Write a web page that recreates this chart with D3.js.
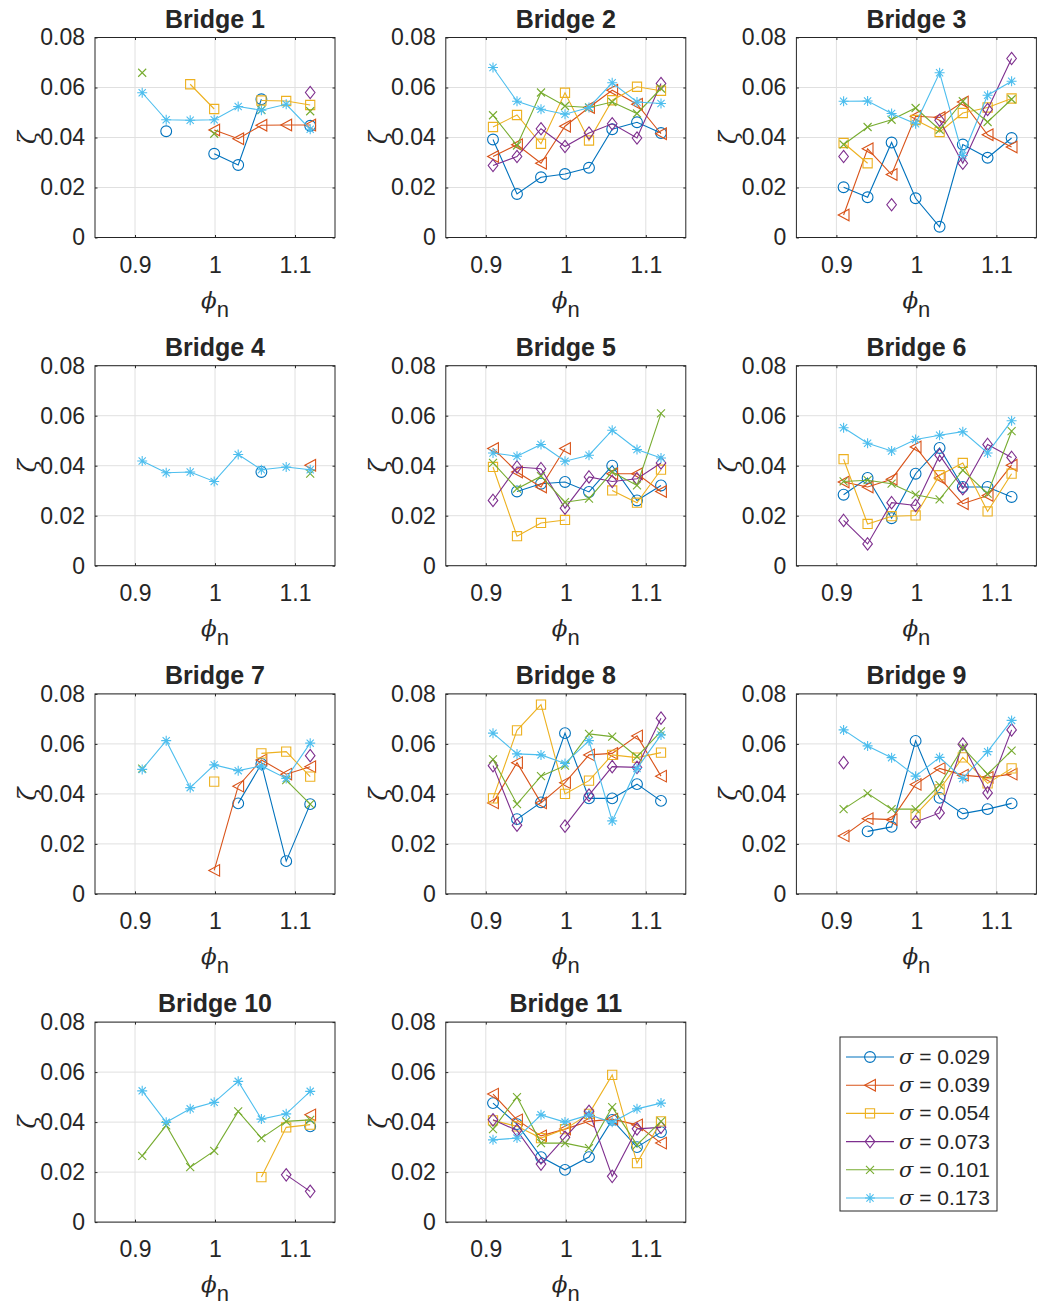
<!DOCTYPE html>
<html><head><meta charset="utf-8">
<script src="https://cdn.jsdelivr.net/npm/d3@7"></script>
<style>
body{margin:0;background:#fff}
svg{display:block}
text{font-family:"Liberation Sans",Arial,Helvetica,sans-serif;fill:#262626}
</style>
</head><body>
<svg id="c" width="1037" height="1309"></svg>
<script>
// ---------- data ----------
const phiN = [0.909, 0.939, 0.969, 0.999, 1.029, 1.058, 1.089, 1.119];
const sigmaLabels = ["0.029", "0.039", "0.054", "0.073", "0.101", "0.173"];
const bridgeNames = ["Bridge 1","Bridge 2","Bridge 3","Bridge 4","Bridge 5","Bridge 6","Bridge 7","Bridge 8","Bridge 9","Bridge 10","Bridge 11"];
const yTicks = [0, 0.02, 0.04, 0.06, 0.08];
const xTicks = [0.9, 1, 1.1];
const _ = null;
// each bridge: rows = sigma series (0.029, 0.039, 0.054, 0.073, 0.101, 0.173), columns = phiN
const bridge1 = [
  [_, 0.0425, _, 0.0335, 0.029, 0.0553, _, 0.0447],
  [_, _, _, 0.043, 0.0395, 0.0449, 0.045, 0.045],
  [_, _, 0.0613, 0.0514, _, 0.0548, 0.0546, 0.053],
  [_, _, _, _, _, _, _, 0.058],
  [0.0659, _, _, 0.0415, _, 0.051, _, 0.0505],
  [0.0579, 0.0471, 0.0469, 0.0471, 0.0524, 0.0509, 0.0533, 0.0433]
];
const bridge2 = [
  [0.0392, 0.0174, 0.0241, 0.0254, 0.0279, 0.0433, 0.0461, 0.0418],
  [0.0324, 0.0371, 0.0297, 0.0445, 0.052, 0.0589, 0.0533, 0.0415],
  [0.0442, 0.049, 0.0375, 0.0579, 0.0388, 0.0549, 0.0603, 0.0587],
  [0.0288, 0.0324, 0.0435, 0.0364, 0.0418, 0.0455, 0.0398, 0.0616],
  [0.0489, 0.0368, 0.058, 0.0526, 0.052, 0.0542, 0.0496, 0.0596],
  [0.068, 0.0545, 0.0513, 0.0493, 0.052, 0.0619, 0.0542, 0.0536]
];
const bridge3 = [
  [0.0201, 0.0161, 0.038, 0.0157, 0.0043, 0.0372, 0.0319, 0.0398],
  [0.009, 0.0355, 0.0252, 0.0485, 0.048, 0.0542, 0.0411, 0.0362],
  [0.0378, 0.0297, _, 0.047, 0.0422, 0.0498, 0.052, 0.0556],
  [0.0324, _, 0.0131, _, 0.0469, 0.0297, 0.0512, 0.0716],
  [0.0372, 0.0442, 0.0471, 0.0518, 0.0431, 0.0545, 0.0462, 0.0553],
  [0.0545, 0.0546, 0.0496, 0.0455, 0.0659, 0.0328, 0.0569, 0.0625]
];
const bridge4 = [
  [_, _, _, _, _, 0.0375, _, _],
  [_, _, _, _, _, _, _, 0.0402],
  [_, _, _, _, _, _, _, _],
  [_, _, _, _, _, _, _, _],
  [_, _, _, _, _, _, _, 0.0368],
  [0.0419, 0.0372, 0.0375, 0.0337, 0.0445, 0.0384, 0.0395, 0.0384]
];
const bridge5 = [
  [_, 0.0297, 0.0328, 0.0335, 0.0295, 0.040, 0.0261, 0.0321],
  [0.0469, 0.0375, 0.0315, 0.0469, _, 0.0368, 0.0368, 0.0297],
  [0.0395, 0.0118, 0.0171, 0.0183, _, 0.0301, 0.0252, 0.0384],
  [0.0261, 0.0395, 0.0388, 0.023, 0.0355, 0.0337, 0.0348, 0.0411],
  [0.0411, 0.0308, 0.0358, 0.0254, 0.0268, 0.0375, 0.0321, 0.0609],
  [0.0451, 0.0438, 0.0485, 0.0418, 0.0442, 0.0542, 0.0465, 0.0431]
];
const bridge6 = [
  [0.0284, 0.0351, 0.019, 0.0368, 0.0471, 0.0315, 0.0315, 0.0275],
  [0.0335, 0.0315, 0.0346, 0.0475, 0.0351, 0.0248, 0.0281, 0.0402],
  [0.0426, 0.0167, 0.0198, 0.0201, 0.0362, 0.0411, 0.0217, 0.0368],
  [0.0181, 0.0087, 0.0252, 0.0241, 0.0442, 0.0308, 0.0485, 0.0433],
  [0.0337, 0.0342, 0.0328, 0.0284, 0.0265, 0.0382, 0.0288, 0.0538],
  [0.0552, 0.049, 0.0459, 0.0505, 0.0522, 0.0536, 0.0451, 0.058]
];
const bridge7 = [
  [_, _, _, _, 0.0362, 0.052, 0.0131, 0.0359],
  [_, _, _, 0.0094, 0.0431, 0.0536, 0.0479, 0.0509],
  [_, _, _, 0.0449, _, 0.0562, 0.0569, 0.0469],
  [_, _, _, _, _, _, _, 0.0553],
  [0.0501, _, _, _, _, _, 0.0455, 0.0359],
  [0.0498, 0.0613, 0.0425, 0.0516, 0.0493, 0.0512, 0.0462, 0.0603]
];
const bridge8 = [
  [_, 0.0299, 0.0366, 0.0643, 0.0382, 0.0382, 0.0439, 0.0372],
  [0.0364, 0.0525, 0.0364, 0.0445, 0.0556, 0.0562, 0.0632, 0.0471],
  [0.0382, 0.0654, 0.0757, 0.040, 0.0453, 0.0556, 0.0545, 0.0565],
  [0.0513, 0.0275, _, 0.0271, 0.0395, 0.0509, 0.0506, 0.0703],
  [0.0538, 0.0359, 0.0471, 0.0513, 0.064, 0.0629, 0.0549, 0.065],
  [0.0643, 0.056, 0.0556, 0.0522, 0.0613, 0.0292, 0.0502, 0.0636]
];
const bridge9 = [
  [_, 0.025, 0.0268, 0.0612, 0.0384, 0.0321, 0.0339, 0.0362],
  [0.0232, 0.0301, 0.0297, 0.0438, 0.0502, 0.0475, 0.0466, 0.0479],
  [_, _, _, 0.0317, 0.0418, 0.0546, 0.0442, 0.0502],
  [0.0525, _, _, 0.0288, 0.0324, 0.0599, 0.0404, 0.0656],
  [0.0339, 0.0402, 0.0339, 0.0339, 0.0435, 0.0585, 0.0479, 0.0573],
  [0.0656, 0.0592, 0.0545, 0.0471, 0.0546, 0.0462, 0.0569, 0.0694]
];
const bridge10 = [
  [_, _, _, _, _, _, _, 0.0383],
  [_, _, _, _, _, _, _, 0.0429],
  [_, _, _, _, _, 0.018, 0.0379, 0.039],
  [_, _, _, _, _, _, 0.0189, 0.0123],
  [0.0265, 0.0387, 0.022, 0.0285, 0.0443, 0.0336, 0.0403, 0.0409],
  [0.0525, 0.0399, 0.0453, 0.0479, 0.0563, 0.0412, 0.0433, 0.0523]
];
const bridge11 = [
  [0.0476, 0.0392, 0.026, 0.0209, 0.026, 0.0409, 0.030, 0.036],
  [0.0512, 0.0409, 0.0345, 0.0372, 0.0403, 0.0412, 0.0389, 0.0316],
  [0.0407, 0.0383, 0.0336, 0.0372, 0.0433, 0.0589, 0.0236, 0.0403],
  [0.0409, 0.0367, 0.0232, 0.0339, 0.0443, 0.0183, 0.0373, 0.0379],
  [0.0372, 0.050, 0.0316, 0.0316, 0.0296, 0.046, 0.0309, 0.0403],
  [0.0329, 0.0336, 0.0429, 0.040, 0.0429, 0.0399, 0.0453, 0.0476]
];
const bridges = [bridge1, bridge2, bridge3, bridge4, bridge5, bridge6, bridge7, bridge8, bridge9, bridge10, bridge11];

// ---------- style ----------
const seriesColors = ["#0072BD", "#D95319", "#EDB120", "#7E2F8E", "#77AC30", "#4DBEEE"];
const markerTypes = ["circle", "triL", "square", "diamond", "x", "star"];

const svg = d3.select("#c");
const W = 240, H = 200;
const colLeft = [95, 445.8, 796.4];
const rowTop = [37.5, 365.7, 693.9, 1022.1];

function markerPath(type) {
  const p = d3.path();
  switch (type) {
    case "circle": p.arc(0, 0, 5.4, 0, 2 * Math.PI); break;
    case "triL": p.moveTo(-5.4, 0); p.lineTo(5.4, -5.8); p.lineTo(5.4, 5.8); p.closePath(); break;
    case "square": p.rect(-4.6, -4.6, 9.2, 9.2); break;
    case "diamond": p.moveTo(0, -6.2); p.lineTo(4.8, 0); p.lineTo(0, 6.2); p.lineTo(-4.8, 0); p.closePath(); break;
    case "x": p.moveTo(-4, -4); p.lineTo(4, 4); p.moveTo(-4, 4); p.lineTo(4, -4); break;
    case "star":
      p.moveTo(-5, 0); p.lineTo(5, 0); p.moveTo(0, -5); p.lineTo(0, 5);
      p.moveTo(-3.6, -3.6); p.lineTo(3.6, 3.6); p.moveTo(-3.6, 3.6); p.lineTo(3.6, -3.6); break;
  }
  return p.toString();
}

bridges.forEach((data, bi) => {
  const col = bi % 3, row = Math.floor(bi / 3);
  const x0 = colLeft[col], y0 = rowTop[row];
  const g = svg.append("g").attr("transform", `translate(${x0},${y0})`);
  const x = d3.scaleLinear().domain([0.85, 1.15]).range([0, W]);
  const y = d3.scaleLinear().domain([0, 0.08]).range([H, 0]);

  // grid
  g.append("g").selectAll("line").data(xTicks).join("line")
    .attr("x1", d => x(d)).attr("x2", d => x(d)).attr("y1", 0).attr("y2", H)
    .attr("stroke", "#e0e0e0").attr("stroke-width", 1);
  g.append("g").selectAll("line").data(yTicks).join("line")
    .attr("y1", d => y(d)).attr("y2", d => y(d)).attr("x1", 0).attr("x2", W)
    .attr("stroke", "#e0e0e0").attr("stroke-width", 1);

  // axes
  const ax = g.append("g").attr("transform", `translate(0,${H})`)
    .call(d3.axisBottom(x).tickValues(xTicks).tickFormat(d3.format("~g")).tickSizeInner(-2.5).tickSizeOuter(0).tickPadding(19));
  const ay = g.append("g")
    .call(d3.axisLeft(y).tickValues(yTicks).tickFormat(d => d === 0 ? "0" : d3.format(".2f")(d)).tickSizeInner(-2.5).tickSizeOuter(0).tickPadding(10));
  g.append("g").call(d3.axisTop(x).tickValues(xTicks).tickFormat("").tickSizeInner(-2.5).tickSizeOuter(0));
  g.append("g").attr("transform", `translate(${W},0)`).call(d3.axisRight(y).tickValues(yTicks).tickFormat("").tickSizeInner(-2.5).tickSizeOuter(0));
  g.selectAll(".domain").remove();
  g.selectAll(".tick line").attr("stroke", "#262626");
  [ax, ay].forEach(a => a.selectAll("text").attr("font-size", 23).attr("fill", "#262626")
    .style("font-family", '"Liberation Sans",Arial,sans-serif'));
  ax.selectAll("text").attr("dy", "0.71em");

  g.append("rect").attr("x", 0).attr("y", 0).attr("width", W).attr("height", H)
    .attr("fill", "none").attr("stroke", "#262626").attr("stroke-width", 1);

  // title
  g.append("text").attr("x", W / 2).attr("y", -10).attr("text-anchor", "middle")
    .attr("font-size", 25).attr("font-weight", "bold").attr("fill", "#000").text(bridgeNames[bi]);

  // x label
  const xl = g.append("text").attr("x", W / 2).attr("y", H + 70).attr("text-anchor", "middle")
    .attr("font-size", 23);
  xl.append("tspan").attr("font-style", "italic").style("font-family", '"DejaVu Serif",serif').text("ϕ");
  xl.append("tspan").attr("dy", 9).attr("font-size", 22).text("n");

  // y label
  g.append("text").attr("transform", `translate(-59,${H / 2}) rotate(-90)`).attr("text-anchor", "middle")
    .attr("font-size", 24).attr("font-style", "italic").style("font-family", '"DejaVu Serif",serif').text("ζ");

  // series
  data.forEach((vals, si) => {
    const pts = vals.map((v, i) => [phiN[i], v]);
    const line = d3.line().defined(d => d[1] != null).x(d => x(d[0])).y(d => y(d[1]));
    g.append("path").attr("d", line(pts)).attr("fill", "none")
      .attr("stroke", seriesColors[si]).attr("stroke-width", 1.1);
    g.append("g").selectAll("path").data(pts.filter(d => d[1] != null)).join("path")
      .attr("transform", d => `translate(${x(d[0])},${y(d[1])})`)
      .attr("d", markerPath(markerTypes[si])).attr("fill", "none")
      .attr("stroke", seriesColors[si]).attr("stroke-width", 1.1);
  });
});

// legend
const lg = svg.append("g").attr("transform", "translate(840,1037)");
lg.append("rect").attr("width", 157).attr("height", 174).attr("fill", "#fff")
  .attr("stroke", "#262626").attr("stroke-width", 1);
sigmaLabels.forEach((s, i) => {
  const yy = 20 + i * 28.2;
  lg.append("line").attr("x1", 6).attr("x2", 54).attr("y1", yy).attr("y2", yy)
    .attr("stroke", seriesColors[i]).attr("stroke-width", 1.1);
  lg.append("path").attr("transform", `translate(30,${yy})`).attr("d", markerPath(markerTypes[i]))
    .attr("fill", "none").attr("stroke", seriesColors[i]).attr("stroke-width", 1.1);
  const t = lg.append("text").attr("x", 59).attr("y", yy + 7).attr("font-size", 21);
  t.append("tspan").attr("font-style", "italic").style("font-family", '"DejaVu Serif",serif').text("σ");
  t.append("tspan").text(" = " + s);
});
</script>
</body></html>
